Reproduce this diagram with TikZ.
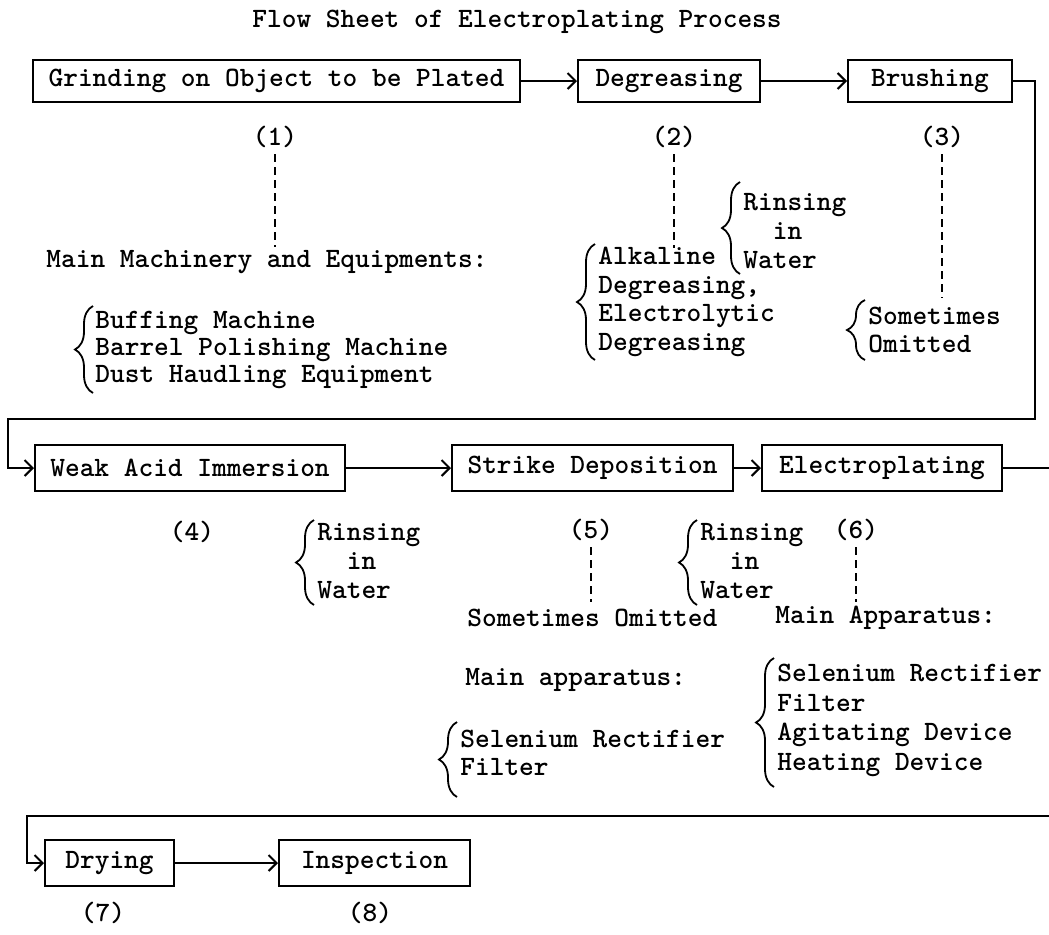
\documentclass[tikz,border=0pt]{standalone}
\usetikzlibrary{arrows.meta,decorations.pathreplacing}
\begin{document}
\begin{tikzpicture}[x=0.5pt,y=-0.5pt,
  every node/.style={font={\ttfamily\bfseries\fontsize{14}{14.3}\selectfont}, inner sep=0pt},
  box/.style={draw, line width=1pt, minimum height=21pt, align=center},
  arr/.style={line width=1pt, -{Straight Barb[length=4pt,width=8pt]}},
  ln/.style={line width=1pt},
  dsh/.style={line width=1pt, dash pattern=on 4pt off 2.5pt},
  brc/.style={line width=0.9pt, decorate, decoration={brace, amplitude=9pt}},
  grp/.style={anchor=west, align=left},
]
\useasboundingbox (0,0) rectangle (1049,934);

% title
\node (title) at (517,22) {Flow Sheet of Electroplating Process};

% row 1
\node[box, minimum width=243.5pt] (b1) at (276.5,81) {Grinding on Object to be Plated};
\node[box, minimum width=91pt] (b2) at (669,81) {Degreasing};
\node[box, minimum width=82pt] (b3) at (930,81) {Brushing};
\draw[arr] (b1) -- (b2);
\draw[arr] (b2) -- (b3);

\node (n1) at (275,137) {(1)};
\node (n2) at (674,137) {(2)};
\node (n3) at (942,137) {(3)};
\coordinate (d1) at (275,247);
\coordinate (d2) at (674,248);
\coordinate (d3) at (942,298);
\draw[dsh] ([yshift=-3pt]n1.south) -- (d1);
\draw[dsh] ([yshift=-3pt]n2.south) -- (d2);
\draw[dsh] ([yshift=-3pt]n3.south) -- (d3);

\node[grp] (m1) at (46,262) {Main Machinery and Equipments:};
\node[grp, font={\ttfamily\bfseries\fontsize{14}{13.5}\selectfont}] (g1) at (95,350)
  {Buffing Machine\\Barrel Polishing Machine\\Dust Haudling Equipment};
\draw[brc] (93,393) -- (93,306);

\node[grp] (g2a) at (743,231) {Rinsing\\\phantom{Ri}in\\Water};
\draw[brc] (740,274) -- (740,182);
\node[grp] (g2b) at (598,302) {Alkaline\\Degreasing,\\Electrolytic\\Degreasing};
\draw[brc] (595,360) -- (595,244);

\node[grp] (g3) at (868,330) {Sometimes\\Omitted};
\draw[brc] (865,360) -- (865,300);

% row 2
\coordinate (r1) at (1035,81);
\coordinate (r2) at (8,419);
\node[box, minimum width=155pt, minimum height=23pt] (b4) at (190,468) {Weak Acid Immersion};
\node[box, minimum width=140.5pt, minimum height=23pt] (b5) at (592.5,468) {Strike Deposition};
\node[box, minimum width=120pt, minimum height=23pt] (b6) at (882,468) {Electroplating};
\draw[arr] (b3.east) -- (b3.east -| r1) |- (r2) |- (b4.west);
\draw[arr] (b4) -- (b5);
\draw[arr] (b5) -- (b6);
\coordinate (e1) at (1049,468);
\draw[ln] (b6) -- (e1);

\node (n4) at (192,532) {(4)};
\node (n5) at (591,530) {(5)};
\node (n6) at (856,530) {(6)};
\coordinate (d5) at (591,602);
\coordinate (d6) at (856,602);
\draw[dsh] ([yshift=-3pt]n5.south) -- (d5);
\draw[dsh] ([yshift=-3pt]n6.south) -- (d6);

\node[grp] (g4) at (317,561) {Rinsing\\\phantom{Ri}in\\Water};
\draw[brc] (314,605) -- (314,520);
\node[grp] (g5) at (700,561) {Rinsing\\\phantom{Ri}in\\Water};
\draw[brc] (697,605) -- (697,520);

\node[grp] (s5) at (467,618) {Sometimes Omitted};
\node[grp] (a6) at (775,618) {Main Apparatus:};
\node[grp] (a5) at (465,680) {Main apparatus:};
\node[grp, font={\ttfamily\bfseries\fontsize{14}{14}\selectfont}] (g5b) at (460,753) {Selenium Rectifier\\Filter};
\draw[brc] (457,797) -- (457,722);
\node[grp, font={\ttfamily\bfseries\fontsize{14}{14.8}\selectfont}] (g6) at (777,720.5)
  {Selenium Rectifier\\Filter\\Agitating Device\\Heating Device};
\draw[brc] (774,787) -- (774,658);

% row 3
\coordinate (e2) at (1049,816);
\coordinate (l3) at (27,816);
\node[box, minimum width=64.5pt, minimum height=23pt] (b7) at (109.5,863) {Drying};
\node[box, minimum width=95.5pt, minimum height=23pt] (b8) at (374.5,863) {Inspection};
\draw[arr] (e2) -- (l3) |- (b7.west);
\draw[arr] (b7) -- (b8);
\node (n7) at (103,913) {(7)};
\node (n8) at (370,913) {(8)};
\end{tikzpicture}
\end{document}
